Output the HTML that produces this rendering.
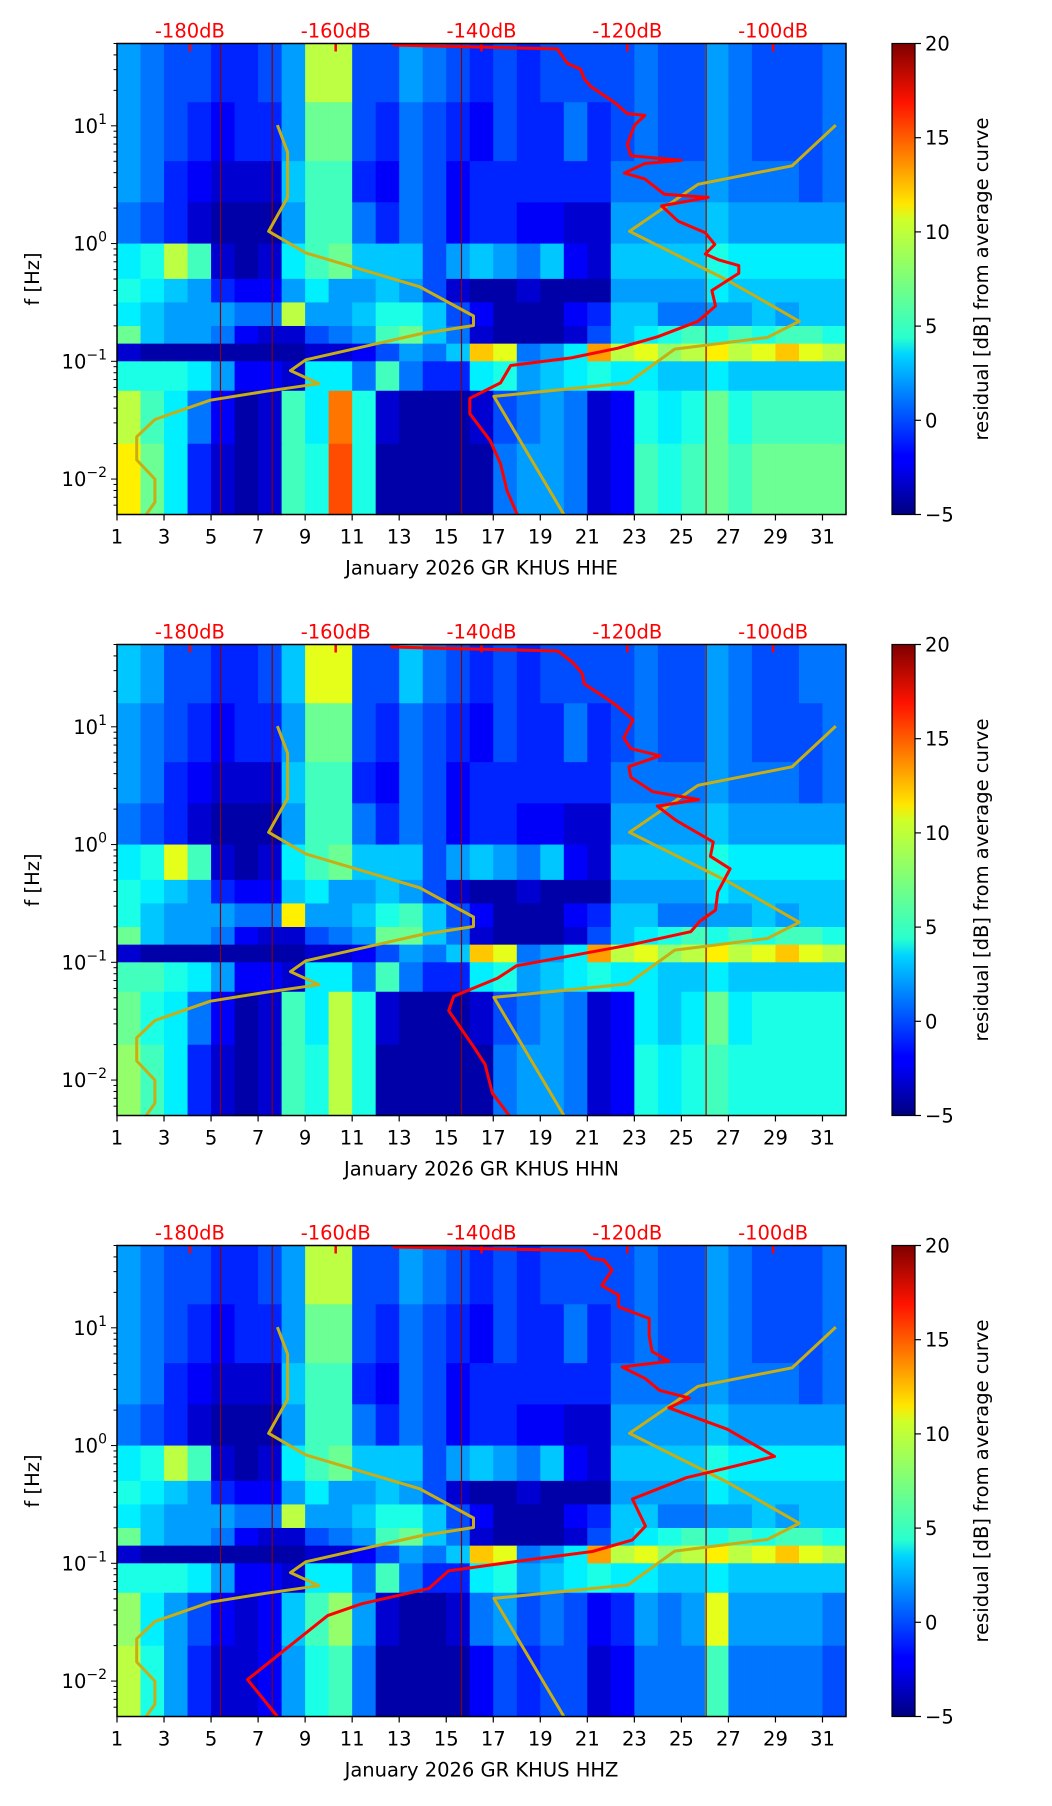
<!DOCTYPE html>
<html><head><meta charset="utf-8">
<style>
html,body{margin:0;padding:0;background:#fff;}
svg{display:block;font-family:"DejaVu Sans","Liberation Sans",sans-serif;}
</style></head>
<body>
<svg id="fig" width="1052" height="1806" viewBox="0 0 1052 1806" xmlns="http://www.w3.org/2000/svg">
<defs>
<linearGradient id="jet" x1="0" y1="1" x2="0" y2="0">
<stop offset="0" stop-color="#00007f"/><stop offset="0.11" stop-color="#0000ff"/>
<stop offset="0.125" stop-color="#0000ff"/><stop offset="0.34" stop-color="#00d4ff"/>
<stop offset="0.375" stop-color="#29ffce"/><stop offset="0.5" stop-color="#7dff7a"/>
<stop offset="0.625" stop-color="#ceff29"/><stop offset="0.66" stop-color="#ffe600"/>
<stop offset="0.875" stop-color="#ff1300"/><stop offset="1" stop-color="#7f0000"/>
</linearGradient>
</defs>
</svg>
<script>
// ---------- data ----------
const days = [1,2,3,4,5,6,7,8,9,10,11,12,13,14,15,16,17,18,19,20,21,22,23,24,25,26,27,28,29,30,31];
const rowEdgesLogF = [1.699,1.2,0.7,0.35,0.0,-0.3,-0.5,-0.7,-0.85,-1.0,-1.25,-1.7,-2.301];
const xTicks = [1,3,5,7,9,11,13,15,17,19,21,23,25,27,29,31];
const dbTicks = [-180,-160,-140,-120,-100];
const dbTickLabels = ["-180dB","-160dB","-140dB","-120dB","-100dB"];
const yTickExp = [1,0,-1,-2];
const cbTicks = [20,15,10,5,0,-5];
const cbTickLabels = ["20","15","10","5","0","\u22125"];
const channels = ["HHE","HHN","HHZ"];

const heatE = [
[2,1,0,0,-1,-1,0,2,9,9,0,0,2,1,0,-1,0,-1,0,0,0,0,1,0,0,2,1,0,0,0,1],
[2,1,0,-1,-2,-1,-1,2,7,7,0,-1,1,0,-1,-2,0,-1,-1,1,-1,0,1,0,0,2,1,0,0,0,1],
[2,1,-1,-2,-3,-3,-3,3,6,6,-1,-2,1,0,-2,-1,-1,-1,-1,-1,-1,1,1,1,1,2,1,1,1,0,1],
[1,0,-1,-3,-4,-4,-4,2,6,6,1,-1,1,0,-2,-1,-1,-2,-2,-3,-3,2,2,2,2,3,2,2,2,2,2],
[4,5,9,6,-3,-4,-3,4,6,7,3,3,3,0,2,3,2,1,3,-2,-3,3,3,3,3,5,4,4,4,4,4],
[5,4,3,2,-1,-2,-2,2,4,2,2,3,2,0,-3,-4,-4,-3,-4,-4,-4,2,2,2,2,4,3,3,3,3,3],
[4,3,2,2,2,1,1,9,2,2,3,5,5,3,0,-2,-4,-4,-4,-2,-1,3,3,1,1,2,2,3,2,3,3],
[7,3,2,2,1,-2,-3,-3,0,1,2,6,7,3,1,-3,-4,-4,-4,-3,0,3,4,5,6,5,6,5,6,6,5],
[-3,-4,-4,-4,-4,-4,-4,-4,-3,-3,-2,0,2,1,3,12,10,1,2,4,13,9,10,8,9,11,9,10,12,10,9],
[5,5,5,4,2,-2,-2,-3,4,4,1,6,1,-1,-1,4,5,2,3,4,5,4,4,3,3,4,3,3,3,3,3],
[9,6,4,1,-2,-4,-3,6,4,14,5,-3,-4,-4,-4,-3,0,1,2,1,-3,-2,5,4,5,7,5,6,6,6,6],
[11,7,4,-1,-3,-4,-3,6,5,15,5,-4,-4,-4,-4,-4,1,2,2,1,-3,-2,6,5,6,7,6,7,7,7,7]
];
const heatN = [
[3,2,0,0,-1,-1,0,3,10,10,0,0,3,1,0,-1,0,-1,0,0,0,0,1,0,0,2,1,0,0,1,1],
[2,1,0,-1,-2,-1,-1,2,7,7,0,-1,1,0,-1,-2,0,-1,-1,1,-1,0,1,0,0,2,1,0,0,0,1],
[2,1,-1,-2,-3,-3,-3,3,6,6,-1,-2,1,0,-2,-1,-1,-1,-1,-1,-1,1,1,1,1,2,1,1,1,0,1],
[1,0,-1,-3,-4,-4,-4,2,6,6,1,-1,1,0,-2,-1,-1,-2,-2,-3,-3,2,2,2,2,3,2,2,2,2,2],
[4,5,10,6,-3,-4,-3,4,6,7,3,3,3,0,2,3,2,1,3,-2,-3,3,3,3,3,5,4,4,4,4,4],
[5,4,3,2,-1,-2,-2,3,4,2,2,3,2,0,-3,-4,-4,-3,-4,-4,-4,2,2,2,2,4,3,3,3,3,3],
[5,3,2,2,2,1,1,11,2,2,3,5,6,3,0,-2,-4,-4,-4,-2,-1,3,3,1,1,2,2,3,2,3,3],
[7,3,2,2,1,-2,-3,-3,0,1,2,7,7,3,1,-3,-4,-4,-4,-3,0,3,4,5,6,5,6,5,6,6,5],
[-3,-4,-4,-4,-4,-4,-4,-4,-3,-3,-2,0,2,1,3,12,10,1,2,4,13,9,10,8,9,11,9,10,12,10,9],
[6,6,5,4,2,-2,-2,-3,4,4,1,6,1,-1,-1,4,5,2,3,4,5,4,4,3,3,4,3,3,3,3,3],
[7,5,4,1,-2,-4,-3,6,4,9,5,-3,-4,-4,-4,-3,0,1,2,1,-3,-2,4,3,4,7,4,5,5,5,5],
[8,6,4,-1,-3,-4,-3,6,5,9,5,-4,-4,-4,-4,-4,1,2,2,1,-3,-2,5,4,5,6,5,5,5,5,5]
];
const heatZ = [
[2,1,0,0,-1,-1,0,2,9,9,0,0,2,1,0,-1,0,-1,0,0,0,0,1,0,0,2,1,0,0,0,1],
[2,1,0,-1,-2,-1,-1,2,7,7,0,-1,1,0,-1,-2,0,-1,-1,1,-1,0,1,0,0,2,1,0,0,0,1],
[2,1,-1,-2,-3,-3,-3,3,6,6,-1,-2,1,0,-2,-1,-1,-1,-1,-1,-1,1,1,1,1,2,1,1,1,0,1],
[1,0,-1,-3,-4,-4,-4,2,6,6,1,-1,1,0,-2,-1,-1,-2,-2,-3,-3,2,2,2,2,3,2,2,2,2,2],
[4,5,9,6,-3,-4,-3,4,6,7,3,3,3,0,2,3,2,1,3,-2,-3,3,3,3,3,5,4,4,4,4,4],
[5,4,3,2,-1,-2,-2,2,4,2,2,3,2,0,-3,-4,-4,-3,-4,-4,-4,2,2,2,2,4,3,3,3,3,3],
[4,3,2,2,2,1,1,9,2,2,3,5,5,3,0,-2,-4,-4,-4,-2,-1,3,3,1,1,2,2,3,2,3,3],
[7,3,2,2,1,-2,-3,-3,0,1,2,6,7,3,1,-3,-4,-4,-4,-3,0,3,4,5,6,5,6,5,6,6,5],
[-3,-4,-4,-4,-4,-4,-4,-4,-3,-3,-2,0,2,1,3,12,10,1,2,4,13,9,10,8,9,11,9,10,12,10,9],
[5,5,5,4,2,-2,-2,-3,4,4,1,6,1,-1,-1,4,5,2,3,4,5,4,4,3,3,4,3,3,3,3,3],
[8,4,2,0,-2,-3,-2,3,6,8,2,-3,-4,-4,-3,1,2,0,1,0,-2,-1,2,1,2,10,2,2,2,2,1],
[9,5,2,-1,-3,-3,-2,2,5,6,1,-4,-4,-4,-4,-2,0,-1,0,0,-3,-2,1,1,1,6,1,1,1,1,0]
];
const heats = [heatE, heatN, heatZ];

// thin dark-red vertical gap lines (day positions)
const gapDays = [5.4, 7.6, 15.65, 26.05];

// model curves (dB, log10 f)
const nlnmDb = [-168.0,-166.6,-166.6,-169.2,-164.1,-148.5,-141.1,-141.1,-148.5,-164.1,-166.2,-162.3,-169.6,-177.2,-184.8,-187.3,-187.3,-184.8,-184.8,-186];
const nlnmLogF = [1.006,0.777,0.392,0.104,-0.079,-0.366,-0.615,-0.696,-0.768,-0.987,-1.079,-1.190,-1.255,-1.330,-1.494,-1.641,-1.837,-2.000,-2.197,-2.301];
const nhnmDb = [-91.4,-97.4,-110.3,-119.7,-106.1,-96.4,-100.8,-113.5,-119.9,-138.3,-128.7];
const nhnmLogF = [1.006,0.660,0.503,0.104,-0.317,-0.660,-0.798,-0.896,-1.183,-1.298,-2.301];

// measured curves per channel
const redEDb = [-152.2,-129.6,-128.2,-126.4,-125.9,-125.0,-121.8,-120.0,-117.6,-119.0,-120.0,-119.5,-112.6,-117.6,-120.4,-117.6,-114.9,-108.9,-115.3,-113.0,-109.3,-108.0,-109.3,-107.5,-104.7,-104.7,-108.4,-107.9,-110.3,-115.8,-121.3,-127.7,-136.0,-137.4,-141.6,-141.6,-138.8,-137.4,-136.5,-135.1];
const redELogF = [1.686,1.653,1.529,1.48,1.398,1.333,1.2,1.104,1.088,1.006,0.843,0.745,0.706,0.68,0.598,0.549,0.418,0.392,0.32,0.189,0.091,-0.007,-0.089,-0.138,-0.187,-0.252,-0.399,-0.53,-0.66,-0.791,-0.889,-0.971,-1.036,-1.183,-1.314,-1.445,-1.673,-1.87,-2.098,-2.301];
const redNDb = [-152.5,-129.5,-127.5,-126.2,-125.9,-122.9,-121.5,-119.2,-120.5,-119.5,-115.5,-119.8,-119.5,-116.5,-110.2,-115.9,-113.3,-108.2,-108.6,-105.9,-107.6,-107.9,-110.0,-111.3,-119.2,-135.2,-137.8,-143.8,-144.5,-141.1,-139.5,-138.5,-136.2];
const redNLogF = [1.678,1.644,1.547,1.455,1.364,1.242,1.181,1.059,0.906,0.815,0.754,0.662,0.571,0.449,0.382,0.327,0.205,0.022,-0.1,-0.206,-0.405,-0.557,-0.649,-0.74,-0.847,-1.03,-1.136,-1.289,-1.411,-1.716,-1.868,-2.112,-2.301];
const redZDb = [-152.2,-125.9,-125.0,-123.2,-122.1,-123.5,-121.2,-121.2,-117.0,-117.0,-116.6,-114.3,-120.7,-117.5,-115.6,-111.5,-114.3,-106.3,-99.8,-106.3,-111.9,-119.3,-117.5,-119.3,-124.8,-135.0,-144.5,-147.2,-156.5,-161.1,-172.1,-168.0];
const redZLogF = [1.686,1.656,1.59,1.575,1.49,1.359,1.277,1.178,1.079,0.931,0.799,0.716,0.667,0.568,0.469,0.403,0.321,0.139,-0.092,-0.19,-0.273,-0.454,-0.685,-0.801,-0.9,-0.982,-1.064,-1.213,-1.345,-1.444,-1.988,-2.301];
const redDbs = [redEDb, redNDb, redZDb];
const redLogFs = [redELogF, redNLogF, redZLogF];

// ---------- layout ----------
const NS = "http://www.w3.org/2000/svg";
const svg = document.getElementById("fig");
const L = 117, W = 729, H = 471, TOPS = [43.5, 644.5, 1245.5];
const DAY0 = 1, DAY1 = 32, LF0 = -2.301, LF1 = 1.699, DB0 = -190, DB1 = -90, CV0 = -5, CV1 = 20;
const CBX = 892, CBW = 23;

function el(tag, attrs, parent) {
  const e = document.createElementNS(NS, tag);
  for (const k in attrs) e.setAttribute(k, attrs[k]);
  parent.appendChild(e);
  return e;
}
function jet(v) {
  let t = (v - CV0) / (CV1 - CV0); t = Math.max(0, Math.min(1, t));
  const c = x => Math.round(255 * Math.max(0, Math.min(1, x)));
  return `rgb(${c(1.5 - Math.abs(4*t - 3))},${c(1.5 - Math.abs(4*t - 2))},${c(1.5 - Math.abs(4*t - 1))})`;
}

channels.forEach((ch, p) => {
  const top = TOPS[p];
  const xDay = d => L + (d - DAY0) / (DAY1 - DAY0) * W;
  const yF = lf => top + (LF1 - lf) / (LF1 - LF0) * H;
  const xDb = db => L + (db - DB0) / (DB1 - DB0) * W;
  const yCb = v => top + (CV1 - v) / (CV1 - CV0) * H;

  const g = el("g", {}, svg);
  
  

  const hm = el("g", {}, g);
  
  
  const grid = heats[p];
  grid.forEach((row, r) => {
    const y0 = yF(rowEdgesLogF[r]), y1 = yF(rowEdgesLogF[r + 1]);
    row.forEach((v, i) => {
      const x0 = xDay(days[i]), x1 = xDay(days[i] + 1);
      const cell = el("rect", {x: x0, y: y0, width: x1 - x0 + 0.6, height: y1 - y0 + 0.6, fill: jet(v)}, hm);
      
      
    });
  });

  gapDays.forEach(d => {
    const ln = el("line", {x1: xDay(d), x2: xDay(d), y1: top, y2: top + H, stroke: "#8b0000", "stroke-width": 1.2}, g);
    
    
  });

  dbTicks.forEach((db, i) => {
    const t = el("line", {x1: xDb(db), x2: xDb(db), y1: top, y2: top + 8, stroke: "#ff0000", "stroke-width": 2.5}, g);
    
    
    const tx = el("text", {x: xDb(db), y: top - 6, fill: "#ff0000", "font-size": 19.5, "text-anchor": "middle"}, g);
    tx.textContent = dbTickLabels[i];
    
    
  });

  function poly(dbArr, lfArr, color, name) {
    const pts = dbArr.map((d, i) => xDb(d).toFixed(1) + "," + yF(lfArr[i]).toFixed(1)).join(" ");
    const pl = el("polyline", {points: pts, fill: "none", stroke: color, "stroke-width": 3, "stroke-linejoin": "round"}, g);
    
    
  }
  poly(nlnmDb, nlnmLogF, "#c8ae14", "low-noise-model-curve");
  poly(nhnmDb, nhnmLogF, "#c8ae14", "high-noise-model-curve");
  poly(redDbs[p], redLogFs[p], "#ff0000", "measured-psd-curve");

  const fr = el("rect", {x: L, y: top, width: W, height: H, fill: "none", stroke: "#000", "stroke-width": 1.5}, g);
  
  

  xTicks.forEach(d => {
    const t = el("line", {x1: xDay(d), x2: xDay(d), y1: top + H, y2: top + H + 6, stroke: "#000", "stroke-width": 1.2}, g);
    
    
    const tx = el("text", {x: xDay(d), y: top + H + 29, "font-size": 19.5, "text-anchor": "middle"}, g);
    tx.textContent = d;
    
    
  });
  const xt = el("text", {x: L + W / 2, y: top + H + 60, "font-size": 19.5, "text-anchor": "middle"}, g);
  xt.textContent = "January 2026 GR KHUS  " + ch;
  
  

  for (let e = -3; e <= 1; e++) {
    for (let m = 1; m <= 9; m++) {
      const lf = e + Math.log10(m);
      if (lf < LF0 || lf > LF1) continue;
      const t = el("line", {x1: L, x2: L - (m === 1 ? 6 : 3.5), y1: yF(lf), y2: yF(lf), stroke: "#000", "stroke-width": 1}, g);
      
      
    }
  }
  yTickExp.forEach(e => {
    const tx = el("text", {x: L - 10, y: yF(e) + 7, "font-size": 19.5, "text-anchor": "end"}, g);
    
    
    const a = el("tspan", {}, tx); a.textContent = "10";
    const b = el("tspan", {dy: -9, "font-size": 14}, tx); b.textContent = e < 0 ? "\u2212" + (-e) : String(e);
  });
  const yt = el("text", {x: 0, y: 0, "font-size": 19.5, "text-anchor": "middle", transform: `translate(39,${top + H / 2}) rotate(-90)`}, g);
  yt.textContent = "f [Hz]";
  
  

  const cb = el("rect", {x: CBX, y: top, width: CBW, height: H, fill: "url(#jet)", stroke: "#000", "stroke-width": 1.2}, g);
  
  
  cbTicks.forEach((v, i) => {
    const t = el("line", {x1: CBX + CBW, x2: CBX + CBW + 6, y1: yCb(v), y2: yCb(v), stroke: "#000", "stroke-width": 1.2}, g);
    
    
    const tx = el("text", {x: CBX + CBW + 10, y: yCb(v) + 7, "font-size": 19.5}, g);
    tx.textContent = cbTickLabels[i];
    
    
  });
  const ct = el("text", {x: 0, y: 0, "font-size": 19.5, "text-anchor": "middle", transform: `translate(988,${top + H / 2}) rotate(-90)`}, g);
  ct.textContent = "residual [dB] from average curve";
  
  
});
</script>
</body></html>
